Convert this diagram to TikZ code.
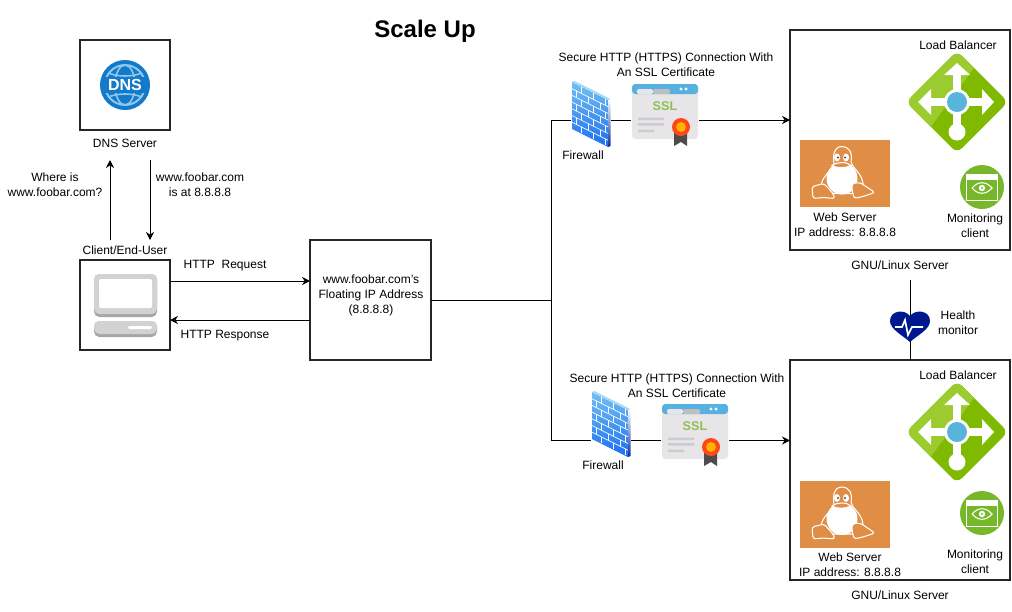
\documentclass[tikz,border=0pt]{standalone}
\usepackage{fontspec}
\setmainfont{Liberation Sans}
\usetikzlibrary{positioning,arrows.meta}

\definecolor{lbgreen}{HTML}{7FBA00}
\definecolor{lblight}{HTML}{9CCB30}
\definecolor{lbblue}{HTML}{59B4D9}
\definecolor{tuxorange}{HTML}{E08D45}
\definecolor{mongreen}{HTML}{76B82A}
\definecolor{dnsblue}{HTML}{1379C9}
\definecolor{dnsline}{HTML}{8EC6EE}
\definecolor{heartblue}{HTML}{00188F}
\definecolor{sslcard}{HTML}{E8E5E9}
\definecolor{sslblue}{HTML}{56B0E0}
\definecolor{sslgreen}{HTML}{8CC152}
\definecolor{pcgrey}{HTML}{D2D2D2}
\definecolor{pcdark}{HTML}{A6A6A6}
\definecolor{fwtop}{HTML}{72C0F2}
\definecolor{fwbot}{HTML}{1C6EF2}
\definecolor{fwside}{HTML}{0A2E9A}

\tikzset{
  dnsicon/.pic={
    \fill[dnsblue] (0,0) circle (25);
    \draw[dnsline, line width=1.5pt] (0,0) circle (20);
    \draw[dnsline, line width=1.2pt] (0,0) ellipse (10 and 20);
    \draw[dnsline, line width=1.2pt] (-17,-12) .. controls (-6,-8) and (6,-8) .. (17,-12);
    \draw[dnsline, line width=1.2pt] (-17,12) .. controls (-6,8) and (6,8) .. (17,12);
    \fill[dnsblue] (-23,-8) rectangle (23,8);
    \node[text=white, font=\fontsize{12}{14}\selectfont\bfseries] (-dnstext) at (0,0) {DNS};
  },
  pcicon/.pic={
    \fill[pcdark, rounded corners=4pt] (-31,-31) rectangle (32,12);
    \fill[pcgrey, rounded corners=4pt] (-31,-31) rectangle (32,9);
    \fill[white, rounded corners=1.5pt] (-26,-26) rectangle (27,3);
    \fill[pcdark, rounded corners=4pt] (-31,16) rectangle (32,32);
    \fill[pcgrey, rounded corners=4pt] (-31,16) rectangle (32,29);
    \fill[white, rounded corners=1pt] (3,21) rectangle (27,24);
  },
  fwicon/.pic={
    \shade[top color=fwtop, bottom color=fwbot] (-19,-33) -- (17,-15) -- (17,32) -- (-19,14) -- cycle;
    \shade[top color=white, bottom color=fwside] (17,-15) -- (19.5,-16) -- (19.5,31) -- (17,32) -- cycle;
    \fill[fwtop!60!white] (-19,-33) -- (-16.5,-34) -- (19.5,-16) -- (17,-15) -- cycle;
    \foreach \row in {1,...,6} {
      \draw[white, line width=.5pt] (-19,-33+6.7*\row) -- (17,-15+6.7*\row);
    }
    \foreach \row in {0,2,4,6} {
      \foreach \col in {-10,2,14} {
        \draw[white, line width=.5pt] (\col,{-33+6.7*\row+(\col+19)/2}) -- ++(0,6.7);
      }
    }
    \foreach \row in {1,3,5} {
      \foreach \col in {-15,-3,9} {
        \draw[white, line width=.5pt] (\col,{-33+6.7*\row+(\col+19)/2}) -- ++(0,6.7);
      }
    }
  },
  sslicon/.pic={
    \fill[sslcard, rounded corners=2.5pt] (-33,-31) rectangle (33,24);
    \fill[sslblue, rounded corners=2.5pt] (-33,-31) rectangle (33,-21);
    \fill[sslcard, rounded corners=1pt] (-28,-26) rectangle (-12,-21);
    \fill[gray!50, rounded corners=1pt] (-12,-26) rectangle (5,-21);
    \fill[white] (16,-26) circle (1.7) (21,-26) circle (1.7);
    \node[text=sslgreen, font=\fontsize{9.5}{10}\selectfont\bfseries] (-ssltext) at (0,-9) {SSL};
    \fill[gray!40] (-27,2.5) rectangle (-1,5) (-27,8) rectangle (-1,10.5) (-27,14.5) rectangle (-11,17);
    \fill[black!70] (9,16) -- (22,16) -- (22,31) -- (16,27) -- (9,31) -- cycle;
    \fill[red!60!orange!90] (16,12) circle (9);
    \fill[orange!60!yellow] (16,12) circle (5);
  },
  lbicon/.pic={
    \begin{scope}
      \clip[rounded corners=5pt] (-51,0) -- (0,-51) -- (51,0) -- (0,51) -- cycle;
      \fill[lbgreen] (-51,-51) rectangle (51,51);
      \fill[lblight] (-52,-52) -- (30,-52) -- (-30,30) -- (-52,30) -- cycle;
    \end{scope}
    \fill[white] (-3.8,-28) rectangle (3.8,30);
    \fill[white] (-27,-3.8) rectangle (27,3.8);
    \fill[white] (0,-39) -- (13,-27) -- (-13,-27) -- cycle;
    \fill[white] (0,30) circle (8.5);
    \fill[white] (-39,0) -- (-26,13) -- (-26,-13) -- cycle;
    \fill[white] (37,0) -- (25,13) -- (25,-13) -- cycle;
    \fill[white] (0,0) circle (13);
    \fill[lbblue] (0,0) circle (10);
  },
  tuxicon/.pic={
    \fill[tuxorange] (-45,-33.5) rectangle (45,33.5);
    \draw[white, line width=.8pt, fill=tuxorange] (-3,-27) .. controls (-12,-27) and (-12,-16) .. (-11,-10) .. controls (-14,-2) and (-24,4) .. (-24,13) -- (-12,20) -- (8,20) .. controls (16,18) and (18,14) .. (18,10) .. controls (16,-2) and (8,-4) .. (6,-12) .. controls (8,-22) and (3,-27) .. (-3,-27) -- cycle;
    \fill[white] (-3,5) ellipse (15.5 and 16);
    \fill[white] (-8,-16) ellipse (3 and 4) (1,-16) ellipse (3 and 4);
    \fill[black!70] (-7,-16) circle (1.2) (0,-16) circle (1.2);
    \draw[white, line width=.8pt, fill=tuxorange] (-13,-8) .. controls (-8,-5) and (0,-5) .. (6,-8) .. controls (2,-12) and (-8,-12) .. (-13,-8) -- cycle;
    \draw[white, line width=.8pt, fill=tuxorange, rounded corners=2pt] (-33,13) -- (-21,10) -- (-12,20) -- (-10,25) -- (-22,24) -- (-32,25) -- cycle;
    \draw[white, line width=.8pt, fill=tuxorange, rounded corners=2pt] (7,10) -- (15,9) -- (30,19) -- (18,23) -- (9,25) -- (7,16) -- cycle;
  },
  monicon/.pic={
    \fill[mongreen] (0,0) circle (22);
    \fill[white] (-15.5,-12.5) rectangle (15,-7.5);
    \draw[white, line width=.7pt] (-15.5,-12.5) rectangle (15,13);
    \draw[white, line width=.8pt] (-10,1) .. controls (-4,-6) and (4,-6) .. (10,1) .. controls (4,8) and (-4,8) .. (-10,1) -- cycle;
    \fill[white] (0,1) circle (3.2);
    \fill[mongreen] (0,1) circle (1.2);
  },
  hearticon/.pic={
    \fill[heartblue] (0,17) .. controls (-8,10) and (-20,4) .. (-20,-4) .. controls (-20,-15) and (-5,-16) .. (0,-9) .. controls (5,-16) and (20,-15) .. (20,-4) .. controls (20,4) and (8,10) .. (0,17) -- cycle;
    \draw[white, line width=1.3pt] (-15,2) -- (-8,2) -- (-5,-5) -- (-2,10) -- (2,2) -- (13,2);
  },
}

\begin{document}
\begin{tikzpicture}[x=0.75pt, y=-0.75pt, >={Stealth[length=6pt,width=6pt]}, line width=0.75pt,
  main box/.style={draw=black!85, line width=1.5pt, rectangle, inner sep=0pt, outer sep=0pt},
  icon slot/.style={rectangle, inner sep=0pt, outer sep=0pt, minimum height=30pt},
  lbl/.style={align=center, font=\fontsize{9}{11.25}\selectfont, inner sep=0pt}]

  \useasboundingbox (0,0) rectangle (1012,611);

  % Define nodes
  \node[font=\fontsize{18}{20}\selectfont\bfseries, inner sep=0pt] (title) at (425,31) {Scale Up};

  \node[main box, minimum width=67.5pt, minimum height=67.5pt] (dns) at (125,85) {};
  \node[main box, minimum width=67.5pt, minimum height=67.5pt] (client) at (125,305) {};
  \node[main box, minimum width=90.75pt, minimum height=90pt] (float) at (370.5,300) {};
  \node[main box, minimum width=165pt, minimum height=165pt] (srv1) at (900,140) {};
  \node[main box, minimum width=165pt, minimum height=165pt] (srv2) at (900,470) {};

  \node[icon slot, minimum width=30pt] (fw1) at (591,120) {};
  \node[icon slot, minimum width=51pt] (ssl1) at (665,120) {};
  \node[icon slot, minimum width=30pt] (fw2) at (611,440.5) {};
  \node[icon slot, minimum width=51pt] (ssl2) at (695,440.5) {};

  \coordinate (askfrom) at (110,240);
  \coordinate (askto) at (110,160);
  \coordinate (ansfrom) at (150,160);
  \coordinate (ansto) at (150,240);
  \coordinate (reqrow) at (240,281);
  \coordinate (resprow) at (240,320);
  \coordinate (bus) at (551,300);
  \coordinate (hmtop) at (910,280);

  % Define edges
  \draw[->] (askfrom) -- (askto);
  \draw[->] (ansfrom) -- (ansto);
  \draw[->] (client.east |- reqrow) -- (float.west |- reqrow);
  \draw[->] (float.west |- resprow) -- (client.east |- resprow);
  \draw (float.east) -- (bus);
  \draw (bus) |- (fw1.west);
  \draw (bus) |- (fw2.west);
  \draw (fw1.east) -- (ssl1.west);
  \draw (fw2.east) -- (ssl2.west);
  \draw[->] (ssl1.east) -- (ssl1.east -| srv1.west);
  \draw[->] (ssl2.east) -- (ssl2.east -| srv2.west);
  \draw (hmtop) -- (hmtop |- srv2.north);

  % Icons
  \pic (dnspic) at (125,85) {dnsicon};
  \pic (pcpic) at (125,305) {pcicon};
  \pic (fwpic1) at (591,115) {fwicon};
  \pic (fwpic2) at (611,425) {fwicon};
  \pic (sslpic1) at (665,115) {sslicon};
  \pic (sslpic2) at (695,435) {sslicon};
  \pic (lbpic1) at (957,102) {lbicon};
  \pic (lbpic2) at (957,432) {lbicon};
  \pic (tuxpic1) at (845,173.5) {tuxicon};
  \pic (tuxpic2) at (845,514) {tuxicon};
  \pic (monpic1) at (982,187) {monicon};
  \pic (monpic2) at (982,513) {monicon};
  \pic (heartpic) at (910,325) {hearticon};

  % Labels
  \node[lbl] (dnslbl) at (125,143) {DNS Server};
  \node[lbl] (asklbl) at (55,185) {Where is\\www.foobar.com?};
  \node[lbl] (anslbl) at (200,185) {www.foobar.com\\is at 8.8.8.8};
  \node[lbl] (clientlbl) at (125,250) {Client/End-User};
  \node[lbl] (reqlbl) at (225,265.5) {HTTP\ \ Request};
  \node[lbl] (resplbl) at (225,336) {HTTP Response};
  \node[lbl] (floatlbl) at (371,295) {www.foobar.com's\\Floating IP Address\\(8.8.8.8)};
  \node[lbl] (seclbl1) at (666,65) {Secure HTTP (HTTPS) Connection With\\An SSL Certificate};
  \node[lbl] (seclbl2) at (677,385.5) {Secure HTTP (HTTPS) Connection With\\An SSL Certificate};
  \node[lbl] (fwlbl1) at (583,155) {Firewall};
  \node[lbl] (fwlbl2) at (603,465) {Firewall};
  \node[lbl] (lblbl1) at (958,45) {Load Balancer};
  \node[lbl] (lblbl2) at (958,375) {Load Balancer};
  \node[lbl] (weblbl1) at (845,225) {Web Server\\IP address: 8.8.8.8};
  \node[lbl] (weblbl2) at (850,565) {Web Server\\IP address: 8.8.8.8};
  \node[lbl] (monlbl1) at (975,225.5) {Monitoring\\client};
  \node[lbl] (monlbl2) at (975,562) {Monitoring\\client};
  \node[lbl] (srvlbl1) at (900,265) {GNU/Linux Server};
  \node[lbl] (srvlbl2) at (900,595) {GNU/Linux Server};
  \node[lbl] (hmlbl) at (958,322.5) {Health\\monitor};
\end{tikzpicture}
\end{document}
